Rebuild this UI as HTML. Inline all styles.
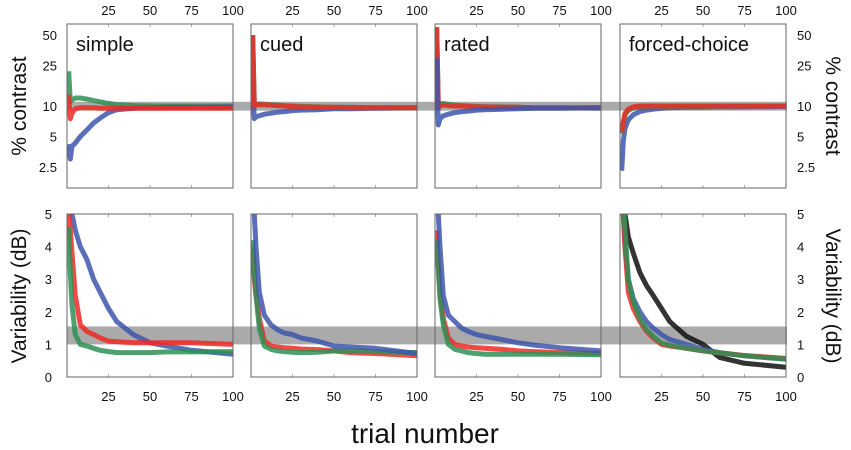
<!DOCTYPE html>
<html><head><meta charset="utf-8"><style>
html,body{margin:0;padding:0;background:#fff;}
svg{display:block;font-family:"Liberation Sans",sans-serif;}
</style></head><body>
<svg id="fig" width="851" height="450" viewBox="0 0 851 450"></svg>
<script>
const trials=[1,2,3,5,8,12,16,20,25,30,40,50,60,75,100];
const panelNames=["simple","cued","rated","forced-choice"];
const xTicks=[25,50,75,100];
const topTicks=[2.5,5,10,25,50];
const topTickLabels=["2.5","5","10","25","50"];
const botTicks=[0,1,2,3,4,5];
// contrast (%) series
const cSimpleGreen=[22,11,11.5,12,12,11.7,11.3,11,10.6,10.3,10.1,10,10,10,10];
const cSimpleRed=[13,7.5,8.5,9.4,9.6,9.6,9.6,9.5,9.5,9.5,9.5,9.5,9.5,9.5,9.5];
const cSimpleBlue=[4.2,3,4,4.3,5,5.8,6.8,7.6,8.6,9.2,9.5,9.6,9.7,9.7,9.8];
const cCuedGreen=[50,10.2,10.4,10.5,10.4,10.3,10.2,10.1,10,9.9,9.8,9.7,9.7,9.6,9.6];
const cCuedRed=[50,10,10.2,10.3,10.3,10.2,10.1,10,9.9,9.8,9.7,9.7,9.6,9.6,9.6];
const cCuedBlue=[17,7.5,7.8,8,8.3,8.5,8.7,8.8,9,9.1,9.2,9.4,9.4,9.5,9.6];
const cRatedGreen=[60,10,10.5,10.6,10.4,10.2,10.1,10,9.9,9.8,9.8,9.7,9.6,9.6,9.5];
const cRatedRed=[60,9.5,10,10.2,10.1,10,10,9.9,9.8,9.8,9.7,9.7,9.6,9.6,9.6];
const cRatedBlue=[30,6.5,7.5,8,8.3,8.6,8.8,8.9,9.1,9.2,9.3,9.4,9.5,9.5,9.6];
const cForcedGreen=[5.3,6.8,8.2,9,9.6,9.8,9.9,9.9,9.9,9.9,9.9,9.9,9.9,10,10];
const cForcedRed=[5.5,7,8.5,9.3,9.8,10,10,10,10,10,10,10,10,10,10];
const cForcedBlue=[2.3,4.5,6,7.3,8.2,8.8,9.1,9.3,9.5,9.6,9.7,9.7,9.8,9.8,9.9];
// variability (dB) series
const vSimpleBlue=[8,6,5,4.5,4.0,3.6,3.0,2.6,2.1,1.7,1.3,1.05,0.95,0.82,0.7];
const vSimpleRed=[5.2,4.5,3.8,2.5,1.6,1.4,1.3,1.2,1.1,1.08,1.05,1.05,1.05,1.05,1.0];
const vSimpleGreen=[4.6,3.2,2.2,1.3,1.0,0.95,0.88,0.82,0.78,0.75,0.75,0.75,0.77,0.77,0.78];
const vCuedBlue=[6,5,4,2.6,1.9,1.6,1.45,1.35,1.3,1.2,1.1,0.95,0.92,0.88,0.72];
const vCuedRed=[4,3,2.5,1.8,1.1,0.95,0.92,0.9,0.88,0.86,0.84,0.8,0.75,0.72,0.65];
const vCuedGreen=[4.2,3.2,2.5,1.5,0.95,0.85,0.8,0.78,0.76,0.75,0.76,0.8,0.8,0.78,0.75];
const vRatedBlue=[6,5,4,2.5,1.9,1.7,1.5,1.4,1.3,1.25,1.15,1.05,0.98,0.9,0.8];
const vRatedRed=[4.5,3.5,2.6,1.8,1.2,1.0,0.95,0.92,0.9,0.88,0.85,0.8,0.78,0.75,0.72];
const vRatedGreen=[4.2,3.3,2.4,1.6,1.0,0.85,0.8,0.75,0.72,0.7,0.7,0.7,0.7,0.7,0.68];
const vForcedBlack=[6,5.5,5,4.3,3.8,3.2,2.8,2.5,2.1,1.7,1.25,1.0,0.6,0.42,0.3];
const vForcedBlue=[6,5,4,3,2.4,2.0,1.7,1.5,1.3,1.15,1.0,0.85,0.75,0.65,0.55];
const vForcedRed=[6,5,4,2.6,2.1,1.7,1.4,1.2,1.0,0.95,0.88,0.8,0.74,0.66,0.57];
const vForcedGreen=[6.5,5.5,4.5,3,2.3,1.8,1.45,1.25,1.05,0.97,0.88,0.8,0.74,0.65,0.55];

const BLUE="#3d56ab",RED="#ee2a24",GREEN="#2f9156",BLACK="#111";
const topSeries=[
 [[cSimpleGreen,GREEN],[cSimpleBlue,BLUE],[cSimpleRed,RED]],
 [[cCuedBlue,BLUE],[cCuedGreen,GREEN],[cCuedRed,RED]],
 [[cRatedGreen,GREEN],[cRatedRed,RED],[cRatedBlue,BLUE]],
 [[cForcedBlue,BLUE],[cForcedGreen,GREEN],[cForcedRed,RED]]];
const botSeries=[
 [[vSimpleBlue,BLUE],[vSimpleRed,RED],[vSimpleGreen,GREEN]],
 [[vCuedRed,RED],[vCuedGreen,GREEN],[vCuedBlue,BLUE]],
 [[vRatedRed,RED],[vRatedGreen,GREEN],[vRatedBlue,BLUE]],
 [[vForcedBlack,BLACK],[vForcedBlue,BLUE],[vForcedRed,RED],[vForcedGreen,GREEN]]];

const NS="http://www.w3.org/2000/svg";
const svg=document.getElementById("fig");
function mk(tag,attrs,parent){const e=document.createElementNS(NS,tag);for(const k in attrs)e.setAttribute(k,attrs[k]);(parent||svg).appendChild(e);return e;}
const PX=[67,251,435,620],PW=166;
const TOP_Y0=24,TOP_Y1=188,BOT_Y0=214,BOT_Y1=377;
function xS(p,t){return PX[p]+t/100*PW;}
function yTop(v){return 106-Math.log2(v/10)*30.5;}
function yBot(v){return BOT_Y1-v*32.6;}

// gray bands
let b=mk("rect",{x:67,y:yTop(11),width:720,height:yTop(9)-yTop(11),fill:"#aaaaaa"});


b=mk("rect",{x:67,y:yBot(1.55),width:720,height:yBot(1)-yBot(1.55),fill:"#aaaaaa"});



const defs=mk("defs",{});
for(let p=0;p<4;p++){
 [[TOP_Y0,TOP_Y1,"t"],[BOT_Y0,BOT_Y1,"b"]].forEach(([y0,y1,k])=>{
  const cp=mk("clipPath",{id:"c"+k+p},defs);
  mk("rect",{x:PX[p],y:y0,width:PW,height:y1-y0},cp);
 });
}
function drawPanel(p,y0,y1,series,yf,k,row){
 const g=mk("g",{});
 
 
 // minor tick marks
 xTicks.forEach(t=>{const x=xS(p,t);mk("line",{x1:x,y1:y1,x2:x,y2:y1-3,stroke:"#999","stroke-width":0.8},g);mk("line",{x1:x,y1:y0,x2:x,y2:y0+3,stroke:"#999","stroke-width":0.8},g);});
 const lg=mk("g",{"clip-path":"url(#c"+k+p+")"},g);
 series.forEach(([vals,col],i)=>{
  const d=vals.map((v,j)=>(j?"L":"M")+xS(p,trials[j]).toFixed(1)+","+yf(v).toFixed(1)).join(" ");
  const l=mk("path",{d:d,fill:"none",stroke:col,"stroke-width":5,"stroke-opacity":0.85,"stroke-linejoin":"round"},lg);
  
  
 });
 const fr=mk("rect",{x:PX[p],y:y0,width:PW,height:y1-y0,fill:"none",stroke:"#666","stroke-width":1},g);
 
 
}
for(let p=0;p<4;p++){
 drawPanel(p,TOP_Y0,TOP_Y1,topSeries[p],yTop,"t","contrast");
 drawPanel(p,BOT_Y0,BOT_Y1,botSeries[p],yBot,"b","variability");
 const tt=mk("text",{x:PX[p]+9,y:51,"font-size":20,fill:"#111"});tt.textContent=panelNames[p];
 
 
 xTicks.forEach(t=>{
  [[15,'top'],[401,'bottom']].forEach(([yy,pos])=>{
   const e=mk("text",{x:xS(p,t),y:yy,"font-size":13,"text-anchor":"middle",fill:"#111"});e.textContent=t;
   
   
  });
 });
}
topTicks.forEach((v,i)=>{
 [[57,"end","left"],[797,"start","right"]].forEach(([x,a,s])=>{
  const e=mk("text",{x:x,y:yTop(v)+5,"font-size":13,"text-anchor":a,fill:"#111"});e.textContent=topTickLabels[i];
  
  
 });
});
botTicks.forEach(v=>{
 [[52,"end","left"],[797,"start","right"]].forEach(([x,a,s])=>{
  const e=mk("text",{x:x,y:yBot(v)+5,"font-size":13,"text-anchor":a,fill:"#111"});e.textContent=v;
  
  
 });
});
function title(txt,x,y,rot,name,size){
 const e=mk("text",{x:x,y:y,"font-size":size,"text-anchor":"middle",fill:"#111",transform:"rotate("+rot+" "+x+" "+y+")"});e.textContent=txt;
 
 
}
title("% contrast",26,106,-90,"y-axis-title-contrast-left",21);
title("% contrast",826,106,90,"y-axis-title-contrast-right",21);
title("Variability (dB)",26,296,-90,"y-axis-title-variability-left",21);
title("Variability (dB)",826,296,90,"y-axis-title-variability-right",21);
title("trial number",425,443,0,"x-axis-title",28);
</script>
</body></html>
